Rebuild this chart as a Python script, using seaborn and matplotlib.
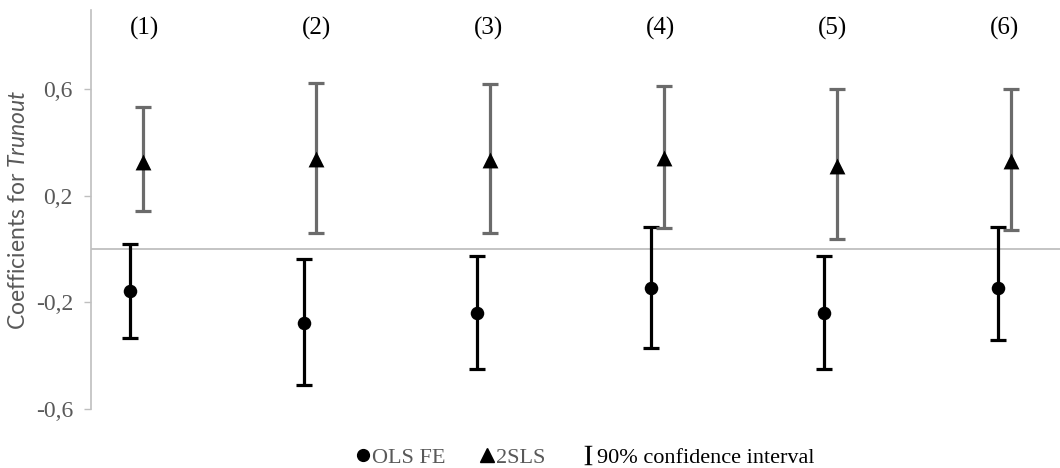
import numpy as np
import pandas as pd
import matplotlib
matplotlib.use("Agg")
import matplotlib.pyplot as plt
from matplotlib.lines import Line2D
import seaborn as sns

# ---- data ----
models = ["(1)", "(2)", "(3)", "(4)", "(5)", "(6)"]
ols_coef = [-0.156, -0.276, -0.241, -0.147, -0.241, -0.147]
ols_lo = [-0.333, -0.510, -0.451, -0.372, -0.451, -0.341]
ols_hi = [0.019, -0.039, -0.025, 0.084, -0.025, 0.081]
tsls_coef = [0.327, 0.337, 0.332, 0.340, 0.313, 0.329]
tsls_lo = [0.144, 0.060, 0.059, 0.078, 0.037, 0.071]
tsls_hi = [0.534, 0.621, 0.619, 0.611, 0.599, 0.599]
yticks = [-0.6, -0.2, 0.2, 0.6]
ytick_labels = ["-0,6", "-0,2", "0,2", "0,6"]
legend_labels = ["OLS FE", "2SLS", "90% confidence interval"]

sns.set_theme(style="white")
plt.rcParams["font.family"] = ["Liberation Serif", "DejaVu Serif"]
plt.rcParams["mathtext.fontset"] = "custom"
plt.rcParams["mathtext.rm"] = "Liberation Serif"
plt.rcParams["mathtext.it"] = "Lato:italic"

grey_txt = "#595959"
axis_grey = "#bfbfbf"

idx = np.arange(len(models))
off = 0.037
df_ols = pd.DataFrame({"x": idx - off, "y": ols_coef})
df_tsls = pd.DataFrame({"x": idx + off, "y": tsls_coef})

fig = plt.figure(figsize=(10.6, 4.68), dpi=100)
ax = fig.add_axes([0.0858, 0.126, 0.9142, 0.8526])

ax.axhline(0, color=axis_grey, lw=1.3, zorder=1)

# error bars
ax.errorbar(df_ols["x"], df_ols["y"],
            yerr=[np.array(ols_coef) - np.array(ols_lo), np.array(ols_hi) - np.array(ols_coef)],
            fmt="none", ecolor="black", elinewidth=2.3, capsize=5.5, capthick=2.3, zorder=2)
ax.errorbar(df_tsls["x"], df_tsls["y"],
            yerr=[np.array(tsls_coef) - np.array(tsls_lo), np.array(tsls_hi) - np.array(tsls_coef)],
            fmt="none", ecolor="#6b6b6b", elinewidth=2.3, capsize=5.5, capthick=2.3, zorder=2)

sns.scatterplot(data=df_ols, x="x", y="y", marker="o", s=95, color="black",
                edgecolor="black", linewidth=0, ax=ax, zorder=3)
sns.scatterplot(data=df_tsls, x="x", y="y", marker="^", s=130, color="black",
                edgecolor="black", linewidth=0, ax=ax, zorder=3)

ax.set_xlim(-0.262, 5.32)
ax.set_ylim(-0.6, 0.896)
ax.set_xticks([])
ax.set_yticks(yticks)
ax.set_yticklabels(ytick_labels, color=grey_txt, fontsize=17)
ax.tick_params(axis="y", direction="out", length=5, width=1, color=axis_grey, pad=8, left=True)
ax.set_xlabel("")
ax.set_ylabel(r"Coefficients for $\mathit{Trunout}$", color=grey_txt, fontsize=16.5,
              family=["Lato", "DejaVu Sans"])
ax.yaxis.set_label_coords(-0.064, 0.5)

for s in ["top", "right", "bottom"]:
    ax.spines[s].set_visible(False)
ax.spines["left"].set_color(axis_grey)
ax.spines["left"].set_linewidth(1.2)

for i, m in enumerate(models):
    ax.text(i + 0.045 - 0.009 * i, 0.827, m, ha="center", va="center", fontsize=18, color="black")

handles = [
    Line2D([], [], marker="o", color="black", linestyle="None", markersize=8.5),
    Line2D([], [], marker="^", color="black", linestyle="None", markersize=9.5),
    Line2D([], [], marker=r"$\mathrm{I}$", color="black", linestyle="None",
           markersize=14, markeredgewidth=0),
]
leg = fig.legend(handles, legend_labels, loc="center", bbox_to_anchor=(0.55, 0.022),
                 ncol=3, frameon=False, fontsize=16, handletextpad=-0.1, handlelength=1.0,
                 columnspacing=1.4, borderpad=0)
for t, c in zip(leg.get_texts(), [grey_txt, grey_txt, "black"]):
    t.set_color(c)

fig.savefig("out.png", dpi=100, facecolor="white")
